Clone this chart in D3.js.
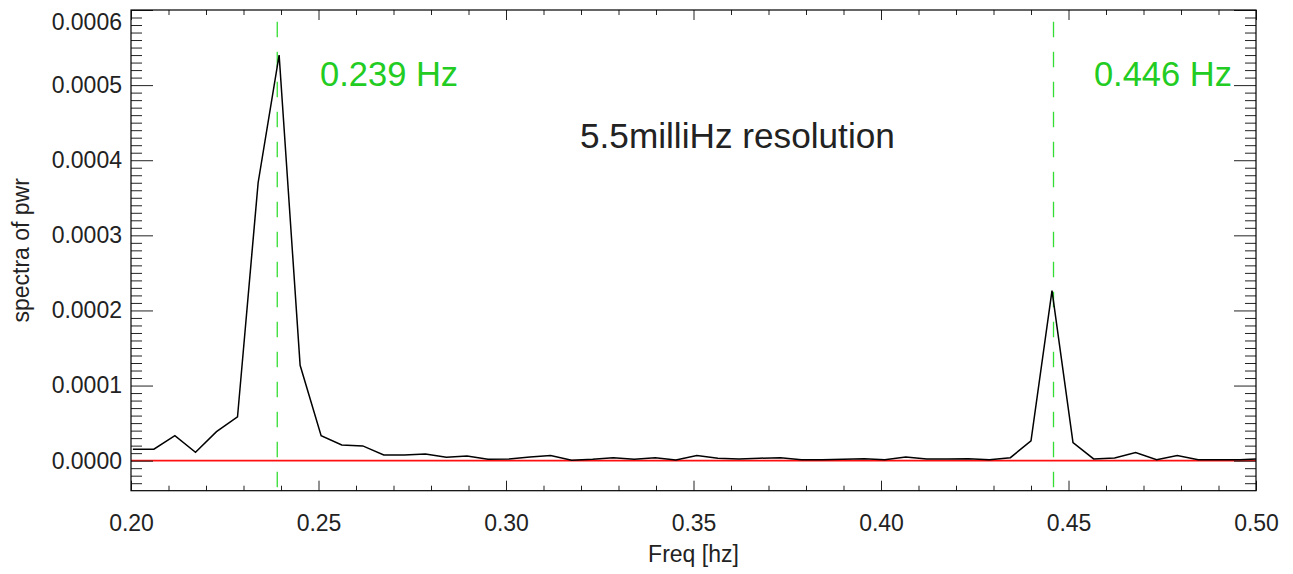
<!DOCTYPE html>
<html lang="en-US">

<head>
    <meta charset="UTF-8" />
    <title>spectra of pwr</title>
    <style>
        body {
            margin: 0;
            background: #fff;
        }

        text {
            font-family: "Liberation Sans", Arial, sans-serif;
            fill: #222;
        }

        .tick line {
            stroke: #222;
        }
    </style>
    <script src="https://d3js.org/d3.v7.min.js"></script>
</head>

<body>
    <div id="container"></div>
    <script>
        // frequency bins (Hz) and spectral power
        const freq = [0.2005, 0.2061, 0.2117, 0.2172, 0.2228, 0.2284, 0.2339, 0.2395, 0.2451, 0.2507,
            0.2562, 0.2618, 0.2674, 0.2729, 0.2785, 0.2841, 0.2896, 0.2952, 0.3008, 0.3064,
            0.3119, 0.3175, 0.3231, 0.3286, 0.3342, 0.3398, 0.3453, 0.3509, 0.3565, 0.3621,
            0.3676, 0.3732, 0.3788, 0.3843, 0.3899, 0.3955, 0.4010, 0.4066, 0.4122, 0.4178,
            0.4233, 0.4289, 0.4345, 0.4400, 0.4456, 0.4512, 0.4567, 0.4623, 0.4679, 0.4735,
            0.4790, 0.4846, 0.4902, 0.4957, 0.5013];
        const pwr = [0.0000152, 0.0000152, 0.0000333, 0.0000112, 0.0000386, 0.0000582, 0.00037, 0.00054, 0.000127, 0.0000333,
            0.000021, 0.0000196, 0.0000076, 0.0000076, 0.0000089, 0.0000045, 0.0000062, 0.0000018, 0.0000023, 0.0000049,
            0.0000067, 0.0000005, 0.0000018, 0.000004, 0.0000018, 0.000004, 0.000001, 0.0000067, 0.0000032, 0.0000023,
            0.0000032, 0.000004, 0.0000013, 0.0000013, 0.0000018, 0.0000027, 0.0000013, 0.0000049, 0.0000023, 0.0000023,
            0.0000027, 0.0000013, 0.000004, 0.0000264, 0.0002264, 0.000024, 0.0000023, 0.0000036, 0.0000107, 0.0000013,
            0.0000067, 0.0000013, 0.0000013, 0.0000013, 0.0000025];

        const xTicks = [0.20, 0.25, 0.30, 0.35, 0.40, 0.45, 0.50];
        const xMinor = [0.21, 0.22, 0.23, 0.24, 0.26, 0.27, 0.28, 0.29, 0.31, 0.32, 0.33, 0.34,
            0.36, 0.37, 0.38, 0.39, 0.41, 0.42, 0.43, 0.44, 0.46, 0.47, 0.48, 0.49];
        const yTicks = [0.0000, 0.0001, 0.0002, 0.0003, 0.0004, 0.0005, 0.0006];
        const yMinorStep = 0.00001;

        const peakFreq = [0.239, 0.446];
        const peakLabels = ["0.239 Hz", "0.446 Hz"];
        const note = "5.5milliHz resolution";

        const W = 1293, H = 574;
        const L = 131, R = 1256, T = 10, B = 490.7;

        const svg = d3.select("#container").append("svg")
            .attr("width", W).attr("height", H);

        const x = d3.scaleLinear().domain([0.2, 0.5]).range([L, R]);
        const y = d3.scaleLinear().domain([-0.00004, 0.0006]).range([B, T]);

        const yMinor = d3.range(-3, 60).map(i => i * yMinorStep)
            .filter(v => Math.abs(v / 0.0001 - Math.round(v / 0.0001)) > 1e-6);

        svg.append("clipPath").attr("id", "plot")
            .append("rect").attr("x", L).attr("y", T).attr("width", R - L).attr("height", B - T);

        // zero line
        svg.append("line")
            .attr("x1", L).attr("x2", R)
            .attr("y1", y(0)).attr("y2", y(0))
            .attr("stroke", "#ff1010").attr("stroke-width", 1.8);

        // peak markers
        svg.selectAll(".peak").data(peakFreq).join("line")
            .attr("class", "peak")
            .attr("x1", d => x(d)).attr("x2", d => x(d))
            .attr("y1", T).attr("y2", B)
            .attr("stroke", "#33dd33").attr("stroke-width", 1.3)
            .attr("stroke-dasharray", "15.5,14.5")
            .attr("stroke-dashoffset", 18.3);

        // spectrum
        const line = d3.line().x((d, i) => x(freq[i])).y(d => y(d));
        svg.append("path")
            .datum(pwr)
            .attr("clip-path", "url(#plot)")
            .attr("fill", "none")
            .attr("stroke", "#000")
            .attr("stroke-width", 1.5)
            .attr("d", line);

        // axes, ticks pointing in
        function ax(axis, tx, ty) {
            const g = svg.append("g").attr("transform", `translate(${tx},${ty})`).call(axis);
            g.select(".domain").remove();
            return g;
        }

        ax(d3.axisBottom(x).tickValues(xTicks).tickSize(-10).tickPadding(24).tickFormat(d3.format(".2f")), 0, B)
            .selectAll("text").attr("font-size", 23).attr("fill", "#222");
        ax(d3.axisBottom(x).tickValues(xMinor).tickSize(-5).tickFormat(""), 0, B);
        ax(d3.axisTop(x).tickValues(xTicks).tickSize(-10).tickFormat(""), 0, T);
        ax(d3.axisTop(x).tickValues(xMinor).tickSize(-5).tickFormat(""), 0, T);

        const yAx = ax(d3.axisLeft(y).tickValues(yTicks).tickSize(-22).tickPadding(9).tickFormat(d3.format(".4f")), L, 0);
        yAx.selectAll("text").attr("font-size", 23).attr("fill", "#222");
        // top label sits just inside the frame, as in the original
        yAx.selectAll(".tick text").filter(d => d === d3.max(yTicks)).attr("dy", "0.85em");
        ax(d3.axisLeft(y).tickValues(yMinor).tickSize(-11).tickFormat(""), L, 0);
        ax(d3.axisRight(y).tickValues(yTicks).tickSize(-22).tickFormat(""), R, 0);
        ax(d3.axisRight(y).tickValues(yMinor).tickSize(-11).tickFormat(""), R, 0);

        svg.selectAll(".tick text").attr("font-family", "'Liberation Sans', Arial, sans-serif");

        // frame
        svg.append("rect")
            .attr("x", L).attr("y", T).attr("width", R - L).attr("height", B - T)
            .attr("fill", "none").attr("stroke", "#000").attr("stroke-width", 1.2);

        // axis titles
        svg.append("text")
            .attr("x", (L + R) / 2).attr("y", 562)
            .attr("text-anchor", "middle").attr("font-size", 23)
            .text("Freq [hz]");
        svg.append("text")
            .attr("transform", `translate(29,${(T + B) / 2}) rotate(-90)`)
            .attr("text-anchor", "middle").attr("font-size", 23)
            .text("spectra of pwr");

        // annotations
        svg.append("text")
            .attr("x", 320).attr("y", 86)
            .attr("font-size", 34.5).style("fill", "#22cc22")
            .text(peakLabels[0]);
        svg.append("text")
            .attr("x", 1232).attr("y", 86).attr("text-anchor", "end")
            .attr("font-size", 34.5).style("fill", "#22cc22")
            .text(peakLabels[1]);
        svg.append("text")
            .attr("x", 580).attr("y", 148)
            .attr("font-size", 35.2).style("fill", "#222")
            .text(note);
    </script>
</body>

</html>
